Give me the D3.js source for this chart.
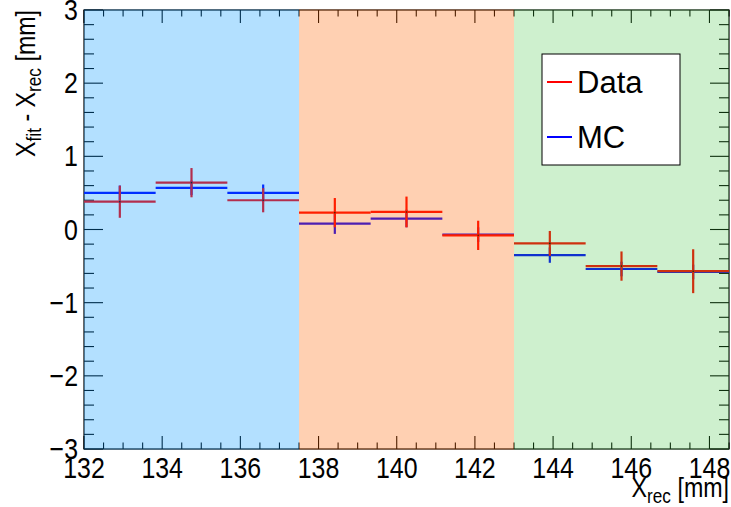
<!DOCTYPE html>
<html>
<head>
<meta charset="utf-8">
<script src="https://cdn.jsdelivr.net/npm/d3@7"></script>
<style>
  body { margin: 0; background: #fff; }
  svg text { font-family: "Liberation Sans", Arial, sans-serif; }
</style>
</head>
<body>
<div id="chart"></div>
<script>
// bin edges along X_rec [mm]
const binEdges = [132, 133.833, 135.667, 137.5, 139.333, 141.167, 143, 144.833, 146.667, 148.5]
const dataY = [0.38, 0.64, 0.40, 0.23, 0.24, -0.08, -0.19, -0.50, -0.57]
const dataErr = [0.22, 0.20, 0.165, 0.20, 0.21, 0.20, 0.17, 0.20, 0.30]
const mcY = [0.50, 0.57, 0.50, 0.08, 0.15, -0.07, -0.35, -0.54, -0.58]
const mcErr = [0.10, 0.10, 0.115, 0.14, 0.12, 0.10, 0.105, 0.10, 0.10]

const bands = [
  { from: 132, to: 137.5, color: 'rgb(2,152,255)', alpha: 0.3 },
  { from: 137.5, to: 143, color: 'rgb(255,98,0)', alpha: 0.3 },
  { from: 143, to: 148.5, color: 'rgb(59,195,59)', alpha: 0.25 },
]
const xTicks = [132, 134, 136, 138, 140, 142, 144, 146, 148]
const yTicks = [-3, -2, -1, 0, 1, 2, 3]
const legendItems = [
  { name: 'Data', color: '#ff0000' },
  { name: 'MC', color: '#0000ff' },
]

const W = 731, H = 507
const plot = { left: 84, right: 729, top: 10, bottom: 449 }
const narrow = 0.86 // ROOT labels are narrower than Liberation Sans

const x = d3.scaleLinear().domain([132, 148.5]).range([plot.left, plot.right])
const y = d3.scaleLinear().domain([-3, 3]).range([plot.bottom, plot.top])

const svg = d3.select('#chart').append('svg')
  .attr('width', W).attr('height', H)

const bins = dataY.map((v, i) => ({
  lo: binEdges[i], hi: binEdges[i + 1],
  c: (binEdges[i] + binEdges[i + 1]) / 2,
  data: v, dErr: dataErr[i], mc: mcY[i], mErr: mcErr[i],
}))

// frame
svg.append('rect')
  .attr('x', plot.left).attr('y', plot.top)
  .attr('width', plot.right - plot.left).attr('height', plot.bottom - plot.top)
  .attr('fill', 'none').attr('stroke', '#000').attr('stroke-width', 1.2)

// ticks, ROOT style on all four sides
const ticksG = svg.append('g').attr('stroke', '#000').attr('stroke-width', 1.1)
const xMinor = d3.range(132, 148.5 + 1e-6, 0.5)
xMinor.forEach((v) => {
  const major = Math.abs(v / 2 - Math.round(v / 2)) < 1e-6
  const len = major ? 13 : 6.5
  ticksG.append('line').attr('x1', x(v)).attr('x2', x(v))
    .attr('y1', plot.bottom).attr('y2', plot.bottom - len)
  ticksG.append('line').attr('x1', x(v)).attr('x2', x(v))
    .attr('y1', plot.top).attr('y2', plot.top + len)
})
const yMinor = d3.range(-3, 3 + 1e-6, 0.2)
yMinor.forEach((v) => {
  const major = Math.abs(v - Math.round(v)) < 1e-6
  const len = major ? 19 : 10
  ticksG.append('line').attr('y1', y(v)).attr('y2', y(v))
    .attr('x1', plot.left).attr('x2', plot.left + len)
  ticksG.append('line').attr('y1', y(v)).attr('y2', y(v))
    .attr('x1', plot.right).attr('x2', plot.right - len)
})

// MC histogram with errors
const mcG = svg.append('g').attr('stroke', '#0000ff').attr('stroke-width', 2.2)
mcG.selectAll('.h').data(bins).enter().append('line')
  .attr('x1', (d) => x(d.lo)).attr('x2', (d) => x(d.hi))
  .attr('y1', (d) => y(d.mc)).attr('y2', (d) => y(d.mc))
mcG.selectAll('.v').data(bins).enter().append('line')
  .attr('x1', (d) => x(d.c)).attr('x2', (d) => x(d.c))
  .attr('y1', (d) => y(d.mc - d.mErr)).attr('y2', (d) => y(d.mc + d.mErr))

// Data with errors
const dG = svg.append('g').attr('stroke', '#ff0000').attr('stroke-width', 2.2)
dG.selectAll('.h').data(bins).enter().append('line')
  .attr('x1', (d) => x(d.lo)).attr('x2', (d) => x(d.hi))
  .attr('y1', (d) => y(d.data)).attr('y2', (d) => y(d.data))
dG.selectAll('.v').data(bins).enter().append('line')
  .attr('x1', (d) => x(d.c)).attr('x2', (d) => x(d.c))
  .attr('y1', (d) => y(d.data - d.dErr)).attr('y2', (d) => y(d.data + d.dErr))
svg.selectAll('.dot').data(bins).enter().append('circle')
  .attr('cx', (d) => x(d.c)).attr('cy', (d) => y(d.data)).attr('r', 0.8).attr('fill', '#000')

// translucent bands laid over everything in the frame
svg.selectAll('.band').data(bands).enter().append('rect')
  .attr('x', (d) => x(d.from)).attr('width', (d) => x(d.to) - x(d.from))
  .attr('y', plot.top - 0.6).attr('height', plot.bottom - plot.top + 1.2)
  .attr('fill', (d) => d.color).attr('fill-opacity', (d) => d.alpha)

// tick labels
svg.selectAll('.xl').data(xTicks).enter().append('g')
  .attr('transform', (d) => `translate(${x(d)}, 478) scale(${narrow}, 1)`)
  .append('text')
  .attr('text-anchor', 'middle').attr('font-size', 29)
  .text((d) => d)
svg.selectAll('.yl').data(yTicks).enter().append('g')
  .attr('transform', (d) => `translate(78, ${y(d) + 10}) scale(${narrow}, 1)`)
  .append('text')
  .attr('text-anchor', 'end').attr('font-size', 29)
  .text((d) => d < 0 ? '\u2212' + Math.abs(d) : d)

// axis titles
const xt = svg.append('g')
  .attr('transform', `translate(${plot.right}, 497) scale(${narrow}, 1)`)
  .append('text').attr('text-anchor', 'end').attr('font-size', 27)
xt.append('tspan').text('X')
xt.append('tspan').attr('font-size', 20).attr('dy', 6).text('rec')
xt.append('tspan').attr('dy', -6).text(' [mm]')

const yt = svg.append('g')
  .attr('transform', `translate(35, ${plot.top}) rotate(-90) scale(${narrow}, 1)`)
  .append('text').attr('text-anchor', 'end').attr('font-size', 27)
yt.append('tspan').text('X')
yt.append('tspan').attr('font-size', 20).attr('dy', 6).text('fit')
yt.append('tspan').attr('dy', -6).text(' - X')
yt.append('tspan').attr('font-size', 20).attr('dy', 6).text('rec')
yt.append('tspan').attr('dy', -6).text(' [mm]')

// legend
const lg = svg.append('g')
lg.append('rect').attr('x', 542).attr('y', 54).attr('width', 138).attr('height', 111)
  .attr('fill', '#fff').attr('stroke', '#000').attr('stroke-width', 1)
const entry = lg.selectAll('.e').data(legendItems).enter().append('g')
  .attr('transform', (d, i) => `translate(0, ${82 + i * 55})`)
entry.append('line').attr('x1', 547).attr('x2', 572).attr('y1', 0).attr('y2', 0)
  .attr('stroke', (d) => d.color).attr('stroke-width', 2)
entry.append('text').attr('x', 577).attr('y', 11).attr('font-size', 31)
  .text((d) => d.name)
</script>
</body>
</html>
